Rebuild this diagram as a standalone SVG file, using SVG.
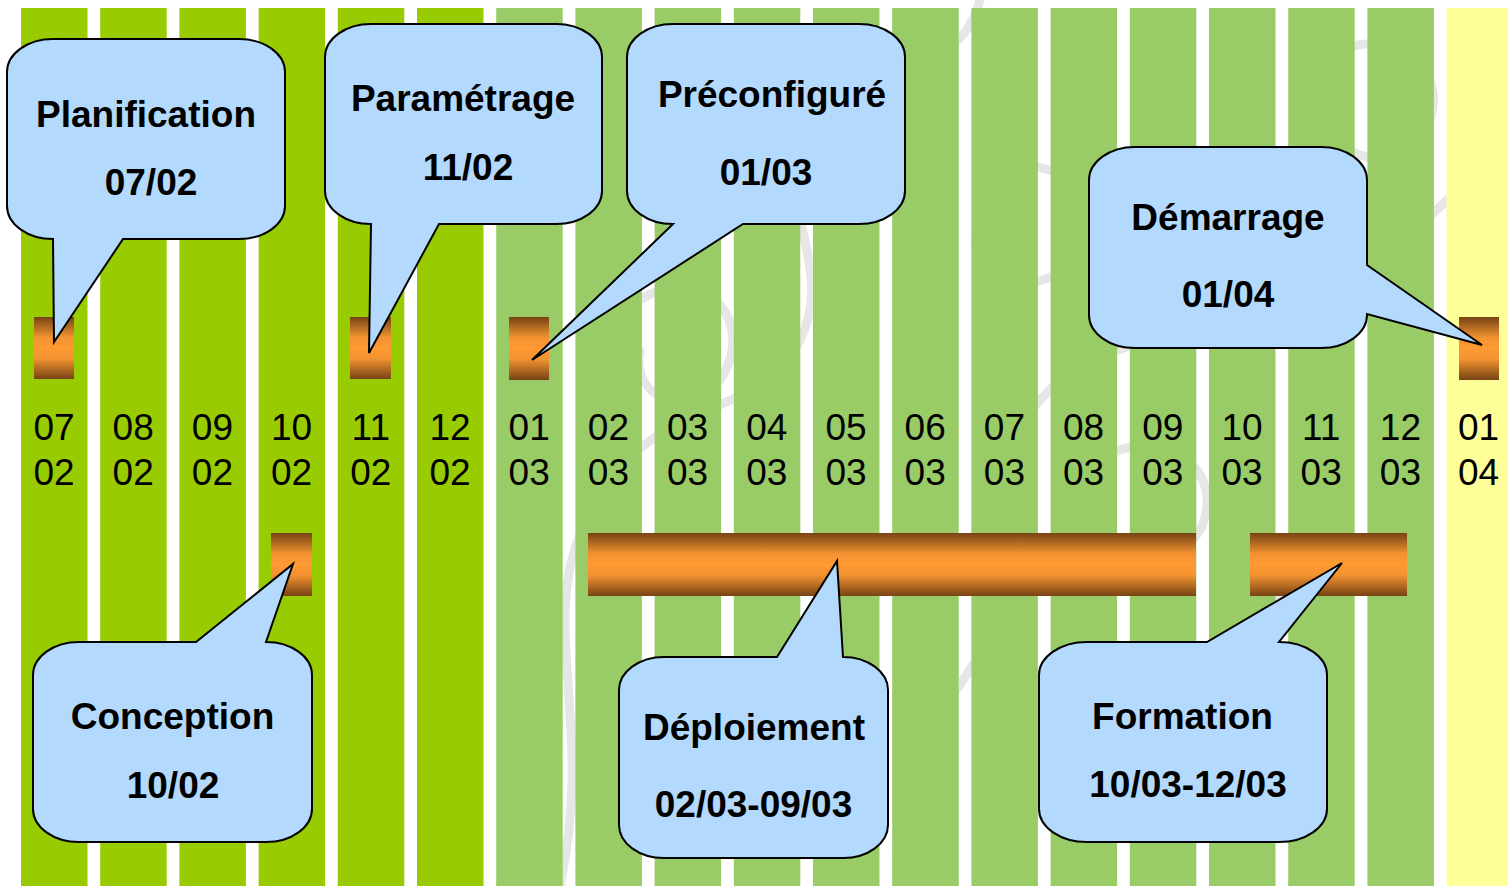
<svg xmlns="http://www.w3.org/2000/svg" width="1508" height="886" viewBox="0 0 1508 886">
<style>
.s1{fill:#99CC00}
.s2{fill:#99CC66}
.s3{fill:#FFFF99}
.wm{fill:none;stroke:#E6E6E6;stroke-width:9;stroke-linecap:round}
.bar{fill:url(#og)}
.call{fill:#B3D9FC;stroke:#000;stroke-width:2;stroke-linejoin:miter}
.lbl{font-family:"Liberation Sans",Arial,sans-serif;font-size:37px;fill:#000;text-anchor:middle}
.ct{font-family:"Liberation Sans",Arial,sans-serif;font-size:37px;font-weight:bold;fill:#000;text-anchor:middle}
</style>
<defs>
<linearGradient id="og" x1="0" y1="0" x2="0" y2="1">
<stop offset="0" stop-color="#774314"/>
<stop offset="0.33" stop-color="#F29331"/>
<stop offset="0.5" stop-color="#FF9933"/>
<stop offset="0.67" stop-color="#F29331"/>
<stop offset="1" stop-color="#774314"/>
</linearGradient>
</defs>
<rect x="0" y="0" width="1508" height="886" fill="#FFFFFF"/>
<g id="watermark">
<path class="wm" d="M560,886 C600,700 520,600 610,480 C680,390 760,420 800,340 C840,260 760,200 820,120 C870,60 960,80 980,0"/>
<path class="wm" d="M900,886 C880,760 960,700 1000,620 C1040,540 980,470 1040,400 C1100,330 1180,360 1200,280 C1220,200 1140,150 1180,60"/>
<path class="wm" d="M1230,886 C1260,780 1200,700 1260,620 C1320,540 1400,560 1420,480 C1440,400 1360,340 1400,260 C1440,180 1500,190 1500,100"/>
<path class="wm" d="M640,300 C700,260 760,320 720,380 C690,420 630,400 640,350"/>
<path class="wm" d="M980,180 C1040,140 1110,190 1080,250 C1050,300 980,290 975,240"/>
<path class="wm" d="M1320,60 C1380,20 1450,60 1430,120 C1410,170 1340,170 1330,120"/>
<path class="wm" d="M760,760 C820,700 900,740 880,810 C860,860 790,860 780,810"/>
<path class="wm" d="M1100,460 C1160,420 1230,470 1200,530 C1170,580 1100,570 1095,520"/>
</g>
<g id="stripes">
<rect class="s1" x="21" y="8" width="66.5" height="878"/>
<rect class="s1" x="100.2" y="8" width="66.5" height="878"/>
<rect class="s1" x="179.4" y="8" width="66.5" height="878"/>
<rect class="s1" x="258.6" y="8" width="66.5" height="878"/>
<rect class="s1" x="337.8" y="8" width="66.5" height="878"/>
<rect class="s1" x="417" y="8" width="66.5" height="878"/>
<rect class="s2" x="496.2" y="8" width="66.5" height="878"/>
<rect class="s2" x="575.4" y="8" width="66.5" height="878"/>
<rect class="s2" x="654.6" y="8" width="66.5" height="878"/>
<rect class="s2" x="733.8" y="8" width="66.5" height="878"/>
<rect class="s2" x="813" y="8" width="66.5" height="878"/>
<rect class="s2" x="892.2" y="8" width="66.5" height="878"/>
<rect class="s2" x="971.4" y="8" width="66.5" height="878"/>
<rect class="s2" x="1050.6" y="8" width="66.5" height="878"/>
<rect class="s2" x="1129.8" y="8" width="66.5" height="878"/>
<rect class="s2" x="1209" y="8" width="66.5" height="878"/>
<rect class="s2" x="1288.2" y="8" width="66.5" height="878"/>
<rect class="s2" x="1367.4" y="8" width="66.5" height="878"/>
<rect class="s3" x="1446.6" y="8" width="61.4" height="878"/>
</g>
<g id="dates">
<text class="lbl" x="54" y="440">07</text><text class="lbl" x="54" y="485">02</text>
<text class="lbl" x="133.2" y="440">08</text><text class="lbl" x="133.2" y="485">02</text>
<text class="lbl" x="212.4" y="440">09</text><text class="lbl" x="212.4" y="485">02</text>
<text class="lbl" x="291.6" y="440">10</text><text class="lbl" x="291.6" y="485">02</text>
<text class="lbl" x="370.8" y="440">11</text><text class="lbl" x="370.8" y="485">02</text>
<text class="lbl" x="450" y="440">12</text><text class="lbl" x="450" y="485">02</text>
<text class="lbl" x="529.2" y="440">01</text><text class="lbl" x="529.2" y="485">03</text>
<text class="lbl" x="608.4" y="440">02</text><text class="lbl" x="608.4" y="485">03</text>
<text class="lbl" x="687.6" y="440">03</text><text class="lbl" x="687.6" y="485">03</text>
<text class="lbl" x="766.8" y="440">04</text><text class="lbl" x="766.8" y="485">03</text>
<text class="lbl" x="846" y="440">05</text><text class="lbl" x="846" y="485">03</text>
<text class="lbl" x="925.2" y="440">06</text><text class="lbl" x="925.2" y="485">03</text>
<text class="lbl" x="1004.4" y="440">07</text><text class="lbl" x="1004.4" y="485">03</text>
<text class="lbl" x="1083.6" y="440">08</text><text class="lbl" x="1083.6" y="485">03</text>
<text class="lbl" x="1162.8" y="440">09</text><text class="lbl" x="1162.8" y="485">03</text>
<text class="lbl" x="1242" y="440">10</text><text class="lbl" x="1242" y="485">03</text>
<text class="lbl" x="1321.2" y="440">11</text><text class="lbl" x="1321.2" y="485">03</text>
<text class="lbl" x="1400.4" y="440">12</text><text class="lbl" x="1400.4" y="485">03</text>
<text class="lbl" x="1478.5" y="440">01</text><text class="lbl" x="1478.5" y="485">04</text>
</g>
<g id="bars">
<rect id="bar-planification" class="bar" x="34" y="317" width="40" height="62"/>
<rect id="bar-parametrage" class="bar" x="350" y="317" width="41" height="62"/>
<rect id="bar-preconfigure" class="bar" x="509" y="317" width="40" height="63"/>
<rect id="bar-demarrage" class="bar" x="1459" y="317" width="40" height="63"/>
<rect id="bar-conception" class="bar" x="271" y="533" width="41" height="63"/>
<rect id="bar-deploiement" class="bar" x="588" y="533" width="608" height="63"/>
<rect id="bar-formation" class="bar" x="1250" y="533" width="157" height="63"/>
</g>
<g id="connectors"></g>
<g id="planification">
<path class="call" d="M53,39 H239 A46,33 0 0 1 285,72 V206 A46,33 0 0 1 239,239 H123 L54,342 L53,239 A46,33 0 0 1 7,206 V72 A46,33 0 0 1 53,39 Z"/>
<text class="ct" x="146" y="127">Planification</text>
<text class="ct" x="151" y="195">07/02</text>
</g>
<g id="parametrage">
<path class="call" d="M371,24 H556 A46,33 0 0 1 602,57 V191 A46,33 0 0 1 556,224 H439 L369,353 L371,224 A46,33 0 0 1 325,191 V57 A46,33 0 0 1 371,24 Z"/>
<text class="ct" x="463" y="111">Paramétrage</text>
<text class="ct" x="468" y="180">11/02</text>
</g>
<g id="preconfigure">
<path class="call" d="M673,24 H859 A46,33 0 0 1 905,57 V191 A46,33 0 0 1 859,224 H743 L532,360 L673,224 A46,33 0 0 1 627,191 V57 A46,33 0 0 1 673,24 Z"/>
<text class="ct" x="772" y="107">Préconfiguré</text>
<text class="ct" x="766" y="185">01/03</text>
</g>
<g id="demarrage">
<path class="call" d="M1135,147 H1321 A46,33 0 0 1 1367,180 V265 L1482,345 L1367,314 L1367,315 A46,33 0 0 1 1321,348 H1135 A46,33 0 0 1 1089,315 V180 A46,33 0 0 1 1135,147 Z"/>
<text class="ct" x="1228" y="230">Démarrage</text>
<text class="ct" x="1228" y="307">01/04</text>
</g>
<g id="conception">
<path class="call" d="M79,642 H196 L293,564 L266,642 A46,33 0 0 1 312,675 V809 A46,33 0 0 1 266,842 H79 A46,33 0 0 1 33,809 V675 A46,33 0 0 1 79,642 Z"/>
<text class="ct" x="172.5" y="729">Conception</text>
<text class="ct" x="173" y="798">10/02</text>
</g>
<g id="deploiement">
<path class="call" d="M664,657 H777 L837,561 L843,657 A45,33 0 0 1 888,690 V825 A45,33 0 0 1 843,858 H664 A45,33 0 0 1 619,825 V690 A45,33 0 0 1 664,657 Z"/>
<text class="ct" x="754" y="740">Déploiement</text>
<text class="ct" x="753.5" y="817">02/03-09/03</text>
</g>
<g id="formation">
<path class="call" d="M1087,642 H1207 L1342,563 L1279,642 A48,33 0 0 1 1327,675 V809 A48,33 0 0 1 1279,842 H1087 A48,33 0 0 1 1039,809 V675 A48,33 0 0 1 1087,642 Z"/>
<text class="ct" x="1182.5" y="729">Formation</text>
<text class="ct" x="1188" y="797">10/03-12/03</text>
</g>
</svg>
